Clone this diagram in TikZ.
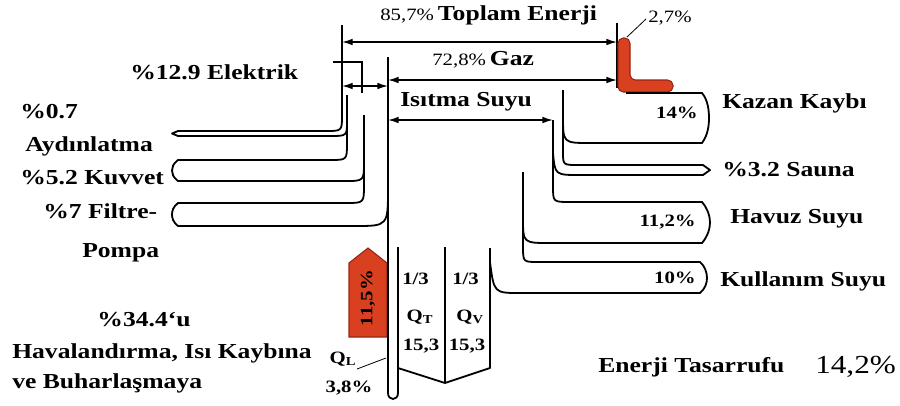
\documentclass[tikz,border=0pt]{standalone}
\usepackage{fontspec}
\setmainfont{Liberation Serif}[FakeStretch=1.2]
\usetikzlibrary{arrows.meta}
\definecolor{lossred}{HTML}{D8401F}
\definecolor{lossedge}{HTML}{9A2412}
\begin{document}
\begin{tikzpicture}[x=0.75pt,y=-0.75pt,
  ln/.style={line width=1.35pt, line join=round},
  big/.style={font=\fontsize{16}{18}\selectfont\bfseries, inner sep=0pt},
  small/.style={font=\fontsize{13}{15}\selectfont\bfseries, inner sep=0pt},
  dimarrow/.style={{Latex[length=8pt,width=5pt]}-{Latex[length=8pt,width=5pt]}, line width=1pt},
  leader/.style={line width=0.6pt},
  lossfill/.style={fill=lossred, draw=lossedge, line width=0.8pt}]
\useasboundingbox (0,0) rectangle (900,405);

% red loss shapes (under the lines)
\filldraw[lossfill] (349,337) -- (349,263) -- (368,248) -- (387,263) -- (387,337) -- cycle;
\node[small, rotate=90] (vent) at (368,298) {11,5\%};
\draw[line width=1pt] (617,23) -- (617,88);
\filldraw[lossfill, rounded corners=4pt] (618,38) -- (630,38) -- (630,80) -- (673,80) -- (673,92) -- (618,92) -- cycle;

% electric streams (left)
\draw[ln] (342,25) -- (342,115) .. controls (342,131) .. (326,131) -- (178,131) -- (172,133.5) -- (178,136) -- (330,136) .. controls (347,136) .. (347,121);
\draw[ln] (347,95) -- (347,143) .. controls (347,160) .. (330,160) -- (178,160)
  .. controls (173,164) and (172,167) .. (172,170.5) .. controls (172,174) and (173,177) .. (178,181)
  -- (345,181) .. controls (364,181) .. (364,162);
\draw[ln] (364,115) -- (364,185) .. controls (364,203) .. (346,203) -- (178,203)
  .. controls (173,207) and (172,211) .. (172,214.5) .. controls (172,218) and (173,222) .. (178,226)
  -- (355,226) .. controls (388,226) .. (388,188);

% central heating line and tube
\draw[ln] (388,57) -- (388,393) .. controls (388,401) and (398,401) .. (398,393) -- (398,247);
\draw[ln] (398,368) -- (445,383) -- (490,368) -- (490,248);
\draw[ln] (445,247) -- (445,383);

% right streams
\draw[ln] (490,262) .. controls (494,293) .. (520,293) -- (700,293)
  .. controls (705,289) and (707,283) .. (707,278) .. controls (707,273) and (705,266) .. (700,262)
  -- (538,262) .. controls (523,262) .. (523,246) -- (523,172);
\draw[ln] (523,218) .. controls (523,243) .. (550,243) -- (702,243)
  .. controls (708,236) and (710,228) .. (710,222.5) .. controls (710,217) and (708,209) .. (702,202)
  -- (570,202) .. controls (553,202) .. (553,186) -- (553,120);
\draw[ln] (553,153) .. controls (555,175) .. (580,175) -- (703,175) -- (710,170) -- (703,165)
  -- (578,165) .. controls (563,165) .. (563,152) -- (563,90);
\draw[ln] (563,116) .. controls (563,143) .. (590,143) -- (702,143)
  .. controls (708,135) and (709,125) .. (709,118) .. controls (709,111) and (708,100) .. (702,93)
  -- (626,93);

% dimension lines
\coordinate (totL) at (342,42);  \coordinate (totR) at (617,42);
\coordinate (gasL) at (388,80);  \coordinate (gasR) at (617,80);
\coordinate (hwL)  at (388,120); \coordinate (hwR)  at (553,120);
\coordinate (elL)  at (342,86);  \coordinate (elR)  at (388,86);
\draw[dimarrow] (totL) -- (totR);
\draw[dimarrow] (gasL) -- (gasR);
\draw[dimarrow] (hwL) -- (hwR);
\draw[dimarrow] (elL) -- (elR);
\coordinate (elA) at (333,62); \coordinate (elB) at (362,62); \coordinate (elC) at (362,93);
\draw[line width=0.8pt] (elA) -- (elB) -- (elC);

% top texts
\node[anchor=west, inner sep=0pt] (tot) at (380,15) {{\fontsize{13}{15}\selectfont 85,7\%} {\fontsize{16}{18}\selectfont\bfseries Toplam Enerji}};
\node[small, anchor=west, font=\fontsize{13}{15}\selectfont] (boil) at (648,18) {2,7\%};
\coordinate (bl1) at (627,37); \coordinate (bl2) at (646,19);
\draw[leader] (bl1) -- (bl2);
\node[anchor=west, inner sep=0pt] (gas) at (432,60) {{\fontsize{13}{15}\selectfont 72,8\%} {\fontsize{16}{18}\selectfont\bfseries Gaz}};
\node[big, anchor=west] (hw) at (400,102) {Isıtma Suyu};

% left texts
\node[big, anchor=west] (el) at (130,72) {\%12.9 Elektrik};
\node[big, anchor=west] (p1) at (20,112) {\%0.7};
\node[big, anchor=west] (p2) at (25,146) {Aydınlatma};
\node[big, anchor=west] (p3) at (20,178) {\%5.2 Kuvvet};
\node[big, anchor=west] (p4) at (43,211) {\%7 Filtre-};
\node[big, anchor=west] (p5) at (82,253) {Pompa};
\node[big] (h1) at (144,320) {\%34.4`u};
\node[big, anchor=west] (h2) at (12,353) {Havalandırma, Isı Kaybına};
\node[big, anchor=west] (h3) at (12,383) {ve Buharlaşmaya};

% right texts
\node[small, anchor=east] (k1) at (698,113) {14\%};
\node[big, anchor=west] (k2) at (722,103) {Kazan Kaybı};
\node[big, anchor=west] (s1) at (722,170) {\%3.2 Sauna};
\node[small, anchor=east] (v1) at (696,222) {11,2\%};
\node[big, anchor=west] (v2) at (730,219) {Havuz Suyu};
\node[small, anchor=east] (u1) at (696,278) {10\%};
\node[big, anchor=west] (u2) at (720,281) {Kullanım Suyu};
\node[big, anchor=west] (e1) at (598,367) {Enerji Tasarrufu};
\node[anchor=west, inner sep=0pt, font=\fontsize{19.5}{21}\selectfont] (e2) at (815,367) {14,2\%};

% centre texts
\node[small, anchor=west] (q1) at (402,279) {1/3};
\node[small, anchor=west] (q2) at (452,279) {1/3};
\node[small] (qt) at (420,317) {Q\textsubscript{T}};
\node[small] (qv) at (470,317) {Q\textsubscript{V}};
\node[small] (r1) at (421,346) {15,3};
\node[small] (r2) at (467,346) {15,3};
\node[small] (ql) at (343,359) {Q\textsubscript{L}};
\node[small] (ql2) at (349,388) {3,8\%};
\coordinate (qlA) at (357,369); \coordinate (qlB) at (386,358);
\draw[leader] (qlA) -- (qlB);
\end{tikzpicture}
\end{document}
